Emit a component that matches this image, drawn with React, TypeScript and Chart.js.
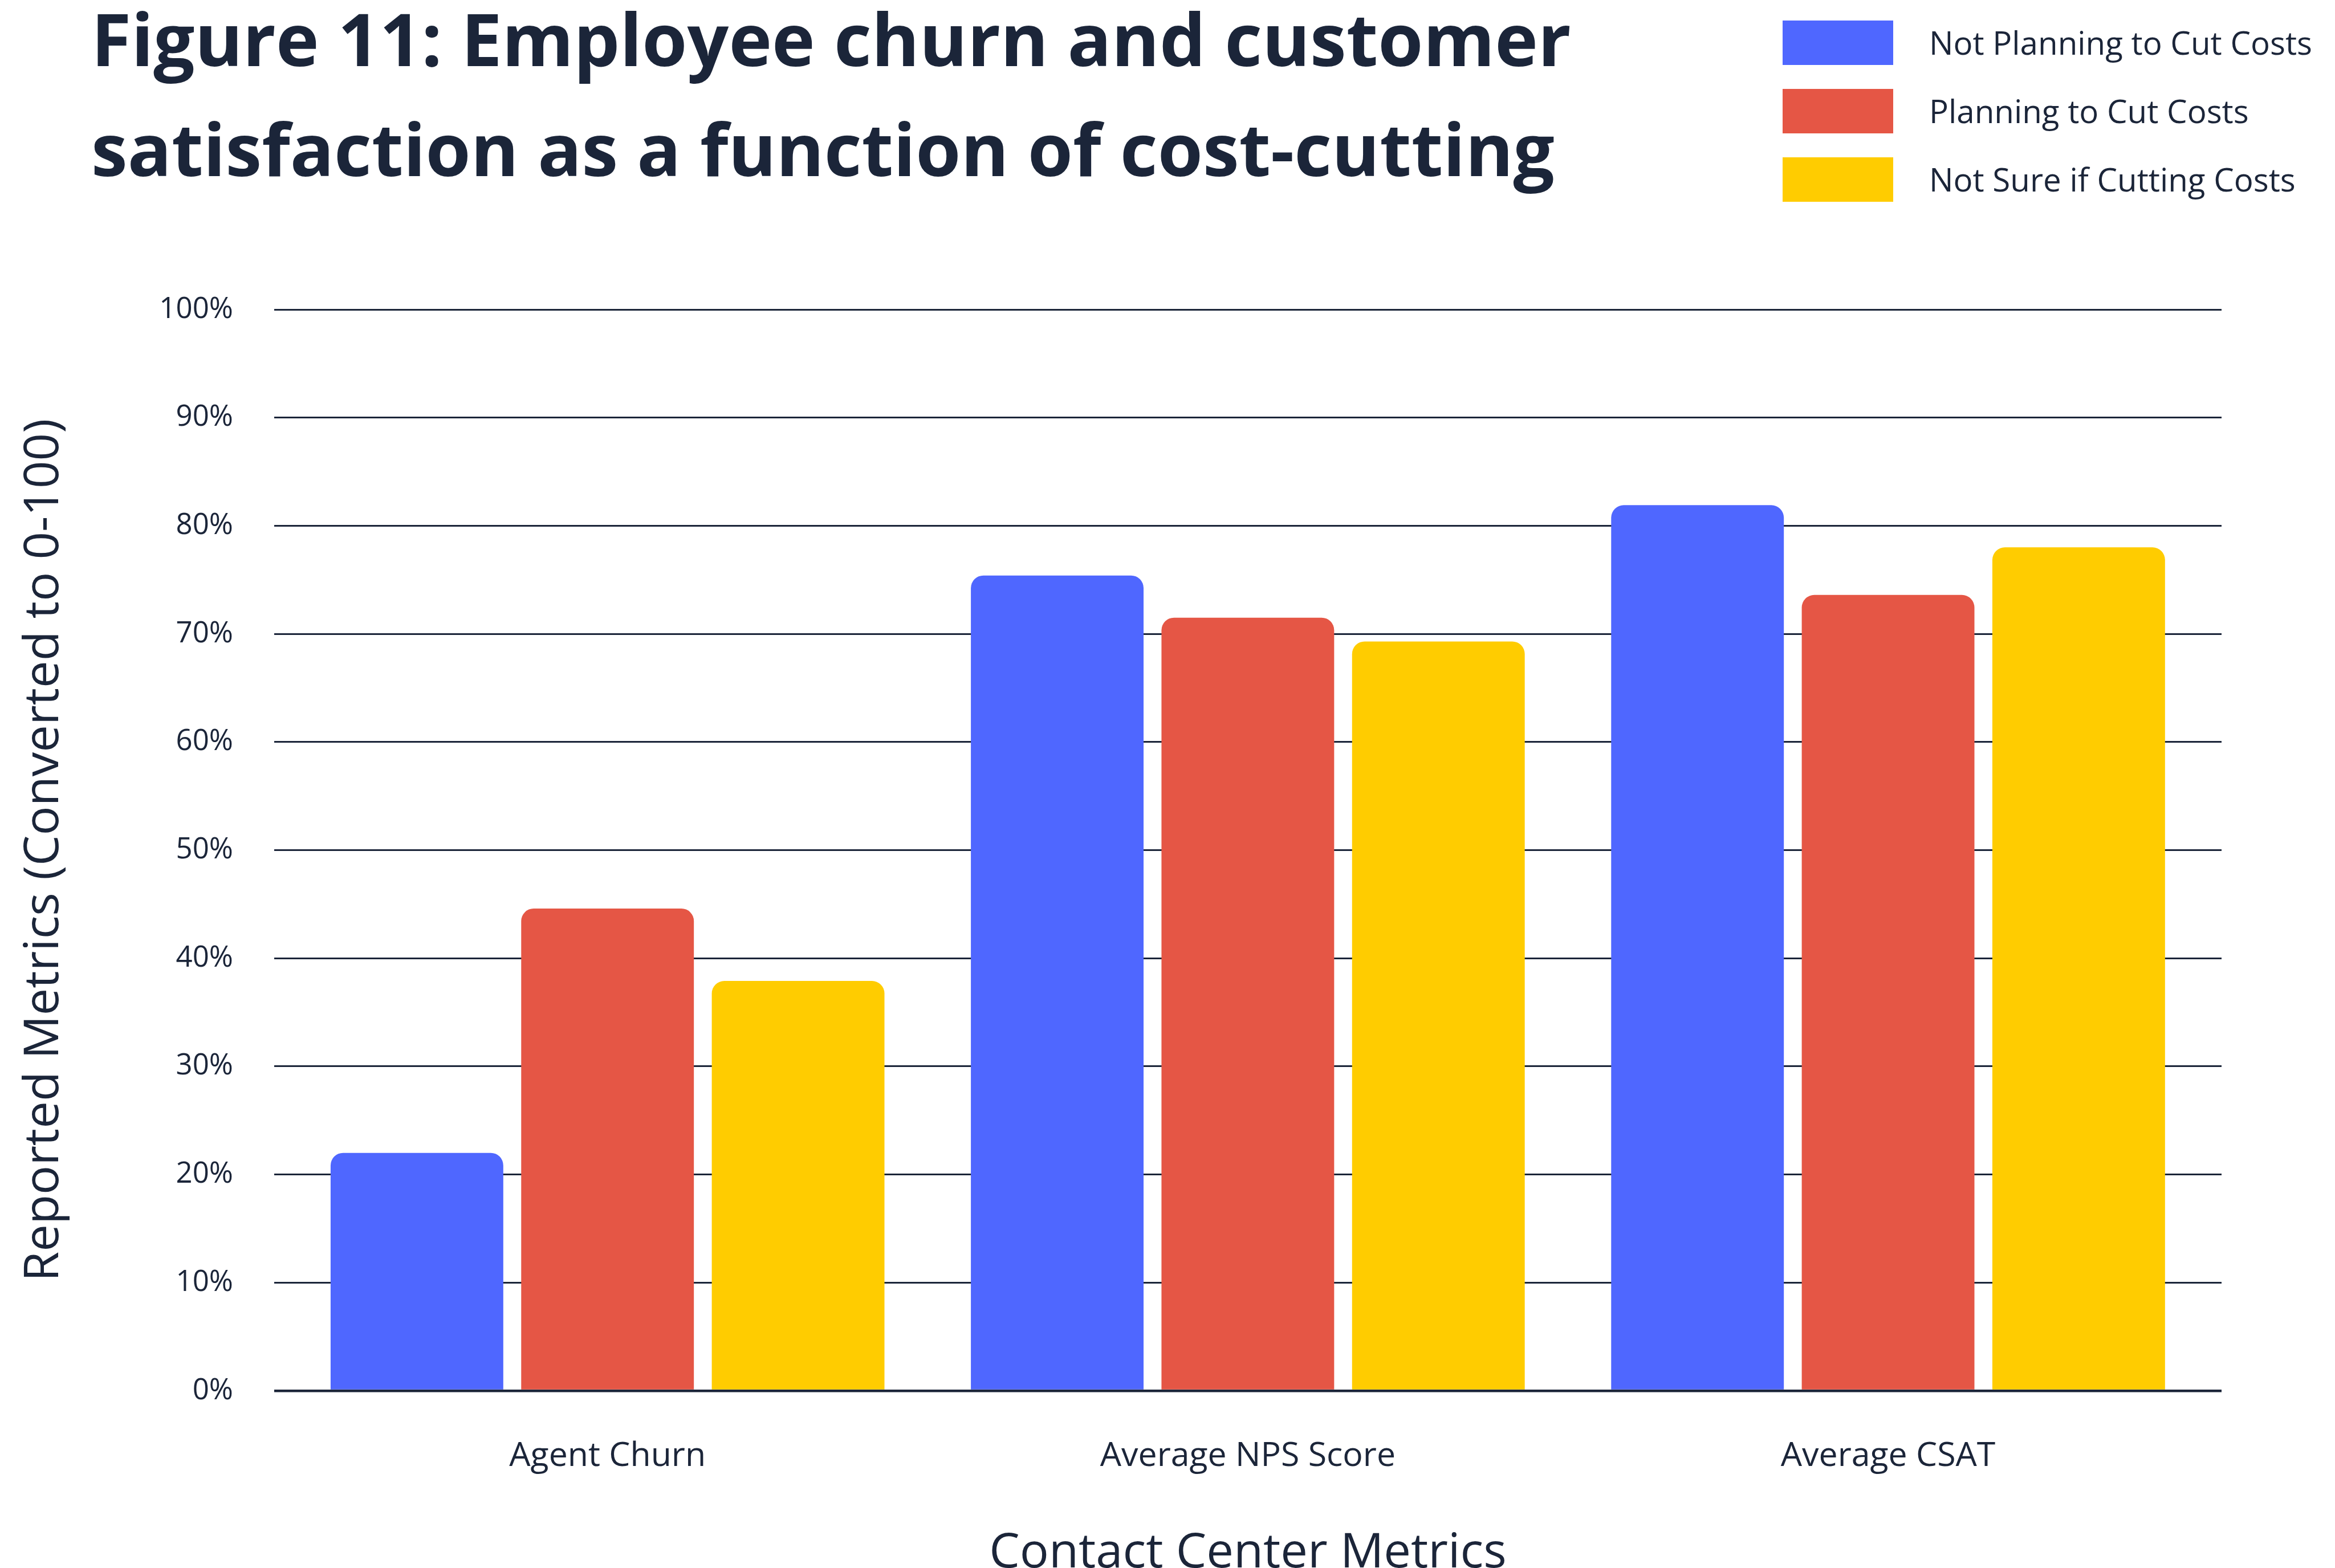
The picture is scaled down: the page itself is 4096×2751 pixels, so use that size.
import React, { useEffect, useRef } from "react";
import { Chart, registerables } from "chart.js";

Chart.register(...registerables);

const titleLines = ["Figure 11: Employee churn and customer", "satisfaction as a function of cost-cutting"];
const categories = ["Agent Churn", "Average NPS Score", "Average CSAT"];
const seriesNames = ["Not Planning to Cut Costs", "Planning to Cut Costs", "Not Sure if Cutting Costs"];
const notPlanning = [22.0, 75.4, 81.9];
const planning = [44.6, 71.5, 73.6];
const notSure = [37.9, 69.3, 78.0];
const seriesColors = ["#4F67FF", "#E55645", "#FFCC00"];
const yTicks = [0, 10, 20, 30, 40, 50, 60, 70, 80, 90, 100];
const yTitle = "Reported Metrics (Converted to 0-100)";
const xTitle = "Contact Center Metrics";

const W = 4096;
const H = 2751;
const NAVY = "#1B2539";
const FONT = "'Open Sans', 'Noto Sans', sans-serif";

const chartLeft = 481;
const chartRight = 3897;
const chartTop = 543;
const chartBottom = 2440;

const headerPlugin = {
  id: "header",
  afterDraw(chart: any) {
    const ctx = chart.ctx;
    ctx.save();
    ctx.fillStyle = NAVY;
    ctx.textAlign = "left";
    ctx.textBaseline = "alphabetic";
    ctx.font = `bold 128px ${FONT}`;
    ctx.fillText(titleLines[0], 160, 116);
    ctx.fillText(titleLines[1], 160, 309);
    // legend
    const boxX = 3127, boxW = 194, boxH = 78;
    const tops = [36, 156, 276];
    ctx.font = `500 56.5px ${FONT}`;
    chart.data.datasets.forEach((ds: any, i: number) => {
      ctx.fillStyle = ds.backgroundColor;
      ctx.fillRect(boxX, tops[i], boxW, boxH);
      ctx.fillStyle = NAVY;
      ctx.fillText(ds.label, 3384, tops[i] + 60);
    });
    ctx.restore();
  },
};

export default function App() {
  const ref = useRef<HTMLCanvasElement | null>(null);
  useEffect(() => {
    if (!ref.current) return;
    const radius = { topLeft: 22, topRight: 22, bottomLeft: 0, bottomRight: 0 };
    const mk = (label: string, values: number[], color: string) => ({
      label,
      data: values.map((y, i) => ({ x: i, y })),
      backgroundColor: color,
      borderWidth: 0,
      borderRadius: radius,
      borderSkipped: "bottom" as const,
      categoryPercentage: 0.893,
      barPercentage: 0.906,
    });
    const chart = new Chart(ref.current, {
      type: "bar",
      data: {
        datasets: [
          mk(seriesNames[0], notPlanning, seriesColors[0]),
          mk(seriesNames[1], planning, seriesColors[1]),
          mk(seriesNames[2], notSure, seriesColors[2]),
        ],
      },
      options: {
        animation: false,
        responsive: true,
        maintainAspectRatio: false,
        devicePixelRatio: 1,
        layout: { padding: { left: 0, right: W - chartRight, top: chartTop, bottom: 0 } },
        plugins: {
          legend: { display: false },
          title: { display: false },
          tooltip: { enabled: false },
        },
        scales: {
          x: {
            type: "linear",
            min: -0.5206,
            max: categories.length - 1 + 0.5208,
            offset: false,
            grid: { display: false, drawTicks: false },
            border: { display: false },
            afterBuildTicks: (scale: any) => {
              scale.ticks = categories.map((_, i) => ({ value: i }));
            },
            ticks: {
              color: NAVY,
              font: { family: FONT, size: 59, weight: "500" },
              padding: 80,
              autoSkip: false,
              maxRotation: 0,
              callback: (v: any) => categories[v] ?? "",
            },
            title: {
              display: true,
              text: xTitle,
              color: NAVY,
              font: { family: FONT, size: 85, lineHeight: 0.6 },
              padding: { top: 0, bottom: 0 },
            },
            afterFit: (scale: any) => {
              scale.height = H - chartBottom;
            },
          },
          y: {
            min: 0,
            max: 100,
            grid: {
              color: NAVY,
              lineWidth: (c: any) => (c.tick && c.tick.value === 0 ? 4.5 : 3),
              drawTicks: false,
            },
            border: { display: false },
            afterBuildTicks: (scale: any) => {
              scale.ticks = yTicks.map((v) => ({ value: v }));
            },
            ticks: {
              color: NAVY,
              font: { family: FONT, size: 51, weight: "500" },
              padding: 72,
              callback: (v: any) => `${v}%`,
            },
            title: {
              display: true,
              text: yTitle,
              color: NAVY,
              font: { family: FONT, size: 85, lineHeight: 1.0 },
              padding: { top: 35, bottom: 0 },
            },
            afterFit: (scale: any) => {
              scale.width = chartLeft;
            },
          },
        },
      },
      plugins: [headerPlugin],
    });
    return () => chart.destroy();
  }, []);
  return (
    <div style={{ position: "fixed", left: 0, top: 0, width: W, height: H, background: "#fff" }}>
      <canvas ref={ref} />
    </div>
  );
}
